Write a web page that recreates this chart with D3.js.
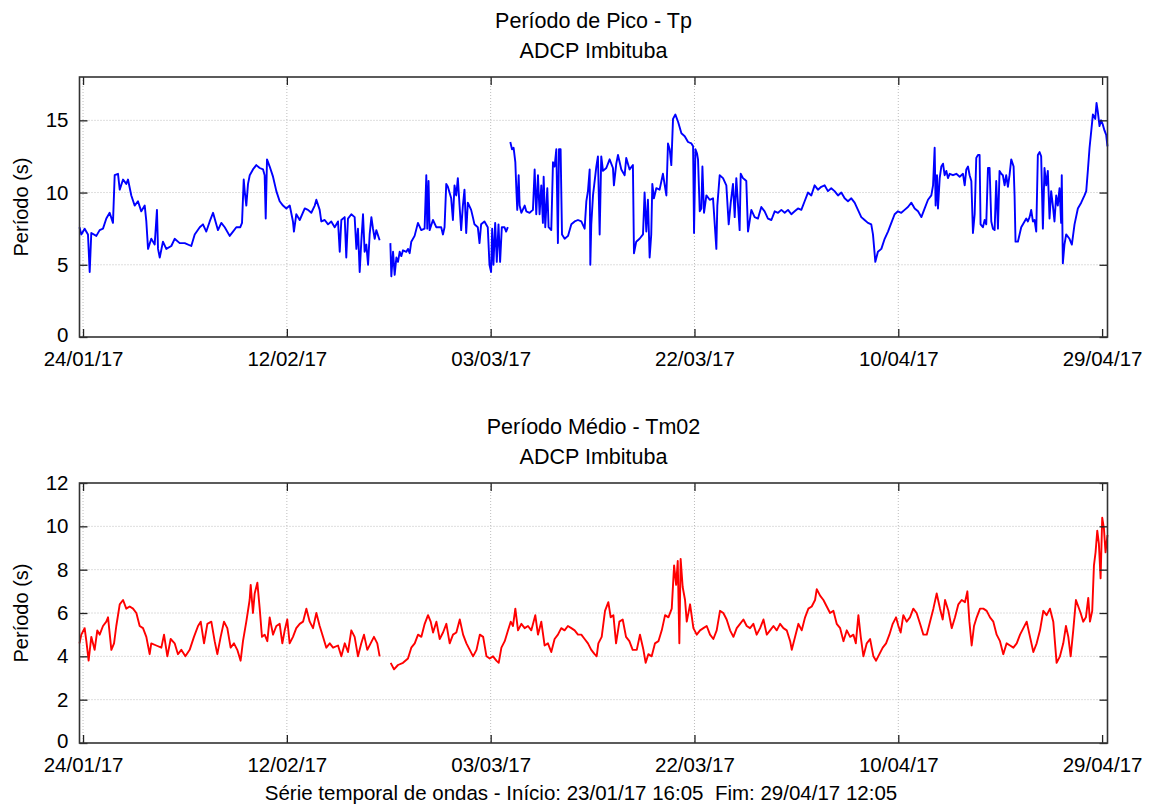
<!DOCTYPE html>
<html><head><meta charset="utf-8">
<script src="https://cdn.jsdelivr.net/npm/d3@7"></script>
<style>
body{margin:0;background:#fff}
text{font-family:"Liberation Sans",Arial,Helvetica,sans-serif;fill:#000}
</style>
</head><body>
<svg id="chart" width="1153" height="805"></svg>
<script>
// ---- data (days since series start, 23/01/17 16:05) ----
const tpDays=[0,0.17,0.48,0.79,0.95,1.10,1.57,1.88,2.19,2.50,2.81,3.12,3.28,3.59,3.75,4.06,4.36,4.52,4.83,5.14,5.45,5.76,6.08,6.23,6.39,6.69,7.01,7.22,7.32,7.48,7.78,8.09,8.56,8.87,9.34,9.81,10.42,10.74,11.21,11.51,11.82,12.14,12.45,12.75,12.91,13.22,13.54,14.00,14.31,14.62,14.99,15.15,15.31,15.40,15.55,15.71,15.87,16.17,16.48,16.80,17.11,17.26,17.36,17.48,17.73,18.04,18.35,18.66,18.97,19.28,19.60,19.90,19.99,20.21,20.53,21.00,21.30,21.61,21.93,22.08,22.39,22.54,22.86,23.17,23.47,23.79,24.10,24.26,24.41,24.72,24.87,25.03,25.34,25.65,25.81,25.96,26.12,26.27,26.43,26.58,26.74,26.90,27.05,27.21,27.36,27.52,27.67,27.98,28.4,28.98,29.07,29.23,29.38,29.54,29.69,29.85,30.00,30.16,30.47,30.62,30.78,30.93,31.24,31.55,31.86,32.17,32.33,32.42,32.54,32.64,32.95,33.26,33.72,33.88,34.03,34.19,34.34,34.65,34.81,34.96,35.12,35.27,35.43,35.58,35.74,35.89,36.05,36.20,36.51,36.67,36.82,37.13,37.29,37.44,37.75,38.06,38.22,38.37,38.47,38.59,38.75,38.90,39.06,39.21,39.37,39.62,39.77,39.93,40.05,40.16,40.32,40.47,40.63,40.72,40.81,40.94,41.03,41.19,41.50,41.65,41.96,42.27,42.43,42.58,42.74,42.89,43.05,43.20,43.27,43.42,43.61,43.73,43.98,44.14,44.29,44.45,44.60,44.70,44.85,44.98,45.23,45.54,45.85,46.16,46.47,46.78,47.09,47.25,47.40,47.56,47.62,47.71,47.87,48.18,48.33,48.49,48.64,48.80,49.11,49.42,49.73,49.82,50.04,50.20,50.51,50.82,50.97,51.28,51.59,51.69,51.90,52.21,52.53,52.68,52.84,52.99,53.15,53.30,53.40,53.55,53.77,54.08,54.39,54.71,54.86,55.02,55.17,55.33,55.55,55.80,56.11,56.42,56.73,57.04,57.20,57.29,57.42,57.57,57.66,57.82,57.97,58.07,58.22,58.44,58.75,59.06,59.37,59.46,59.68,59.99,60.30,60.52,60.71,60.92,61.08,61.23,61.54,61.64,61.85,62.01,62.16,62.32,62.47,62.63,62.94,63.25,63.56,63.87,64.18,64.50,64.81,65.12,65.43,65.74,66.05,66.36,66.67,66.98,67.29,67.60,67.91,68.22,68.53,68.84,69.15,69.46,69.77,70.08,70.39,70.71,71.02,71.33,71.64,71.95,72.26,72.57,72.88,73.19,73.50,73.81,73.97,74.19,74.43,74.75,75.06,75.37,75.68,75.99,76.30,76.61,76.92,77.23,77.55,77.86,78.17,78.48,78.79,79.10,79.41,79.57,79.72,79.81,79.94,80.03,80.19,80.34,80.50,80.65,80.81,80.96,81.12,81.43,81.74,82.05,82.36,82.52,82.67,82.83,82.98,83.14,83.29,83.45,83.60,83.76,83.91,84.00,84.22,84.38,84.53,84.69,84.84,85.00,85.15,85.31,85.46,85.62,85.77,85.93,86.08,86.24,86.39,86.55,86.70,86.86,87.08,87.17,87.26,87.48,87.79,88.10,88.26,88.41,88.57,88.72,88.88,89.03,89.19,89.34,89.50,89.65,89.81,89.96,90.12,90.27,90.43,90.58,90.74,90.89,91.05,91.20,91.36,91.51,91.57,91.67,91.82,91.98,92.29,92.51,92.76,93.07,93.38,93.69,93.85,94.00,94.16,94.31,94.47,94.69,94.81,94.93,95.09,95.24,95.40,95.55,95.71,95.83];
const tpValues=[7.6,7.1,7.5,7.1,4.5,7.2,7.0,7.4,7.5,8.2,8.6,7.9,11.2,11.3,10.2,10.9,10.6,10.9,9.8,9.1,9.4,8.7,9.1,8.0,6.1,6.8,6.4,8.8,6.1,5.5,6.6,6.1,6.3,6.8,6.5,6.5,6.3,7.1,7.6,7.8,7.3,8.0,8.6,7.8,7.4,7.9,7.6,7.0,7.3,7.6,7.6,7.9,10.9,10.1,9.1,10.6,11.2,11.6,11.9,11.7,11.6,11.2,8.2,12.3,11.8,11.1,10.1,9.4,9.1,8.9,9.1,8.0,7.3,8.5,8.1,8.9,8.8,8.6,9.1,9.5,8.8,8.0,8.1,7.8,8.0,7.6,8.0,5.9,8.1,8.3,5.5,8.2,8.5,8.3,6.1,7.5,4.5,6.6,8.5,5.9,6.4,5.0,7.1,8.3,7.5,6.8,7.4,6.7,null,6.5,4.2,5.9,4.3,5.5,5.2,5.9,5.6,6.0,5.9,6.1,5.8,6.6,7.0,7.9,7.4,7.5,11.2,7.5,10.8,7.4,8.1,7.6,7.6,7.1,7.6,10.6,10.4,9.6,8.1,10.5,9.8,11.0,9.1,7.4,9.1,10.2,7.2,9.3,8.8,8.3,7.8,7.6,6.5,7.8,8.0,7.6,5.0,4.5,7.5,5.0,7.9,5.2,7.8,5.2,7.6,7.6,7.3,7.6,null,13.5,13.0,13.1,12.1,10.3,8.8,11.2,9.1,8.6,9.1,8.7,8.6,8.8,11.6,8.5,11.2,8.5,10.5,7.9,11.1,7.6,10.3,7.6,7.4,12.1,11.8,13.0,6.5,13.0,13.0,7.1,6.8,7.0,7.8,8.0,8.1,8.0,7.5,9.4,10.1,11.6,5.0,7.8,9.8,11.8,12.5,7.1,12.5,11.5,11.7,12.3,11.7,10.5,12.0,12.6,11.6,11.2,12.4,11.6,11.9,5.8,6.6,6.8,7.1,10.0,7.3,9.5,5.5,7.1,10.6,9.6,10.3,10.2,11.3,9.8,13.4,13.0,11.9,15.1,15.4,14.9,14.1,13.9,13.5,13.4,13.2,7.2,13.0,12.7,12.3,8.7,8.9,11.8,8.6,9.8,9.5,9.6,6.1,9.1,11.2,11.0,10.5,7.8,9.3,10.6,8.3,11.0,7.4,11.3,11.0,10.9,10.8,7.3,8.0,8.8,8.3,8.2,9.0,8.7,8.2,8.1,8.7,8.6,8.8,8.6,8.8,8.5,8.7,8.9,8.8,9.4,10.0,9.8,10.5,10.2,10.4,10.5,10.1,10.3,10.1,9.8,10.0,9.6,9.4,9.6,9.3,8.8,8.3,8.1,7.9,7.8,7.1,5.2,5.9,6.1,6.8,7.3,7.9,8.5,8.7,8.6,8.8,9.0,9.3,8.9,8.7,8.3,8.9,9.5,9.8,10.5,13.1,9.1,11.2,8.9,11.0,11.8,12.0,11.2,11.5,11.0,11.3,11.2,11.3,11.1,11.3,10.5,11.6,11.8,11.2,10.8,7.2,8.5,12.4,12.6,12.6,7.8,7.6,8.1,7.8,11.7,11.7,8.0,7.5,7.4,10.8,7.5,11.5,11.3,11.2,10.5,11.2,10.4,11.2,12.3,11.8,9.8,6.6,6.6,7.6,8.0,8.2,8.0,8.3,8.8,8.0,8.1,7.3,12.6,12.8,12.5,7.5,11.7,10.5,11.5,8.2,10.1,9.1,8.0,9.8,9.1,10.3,7.9,11.2,5.1,6.4,7.1,6.8,6.4,7.8,8.9,9.3,9.8,10.1,11.5,13.1,14.2,15.4,15.1,16.2,15.6,14.6,15.0,14.7,14.3,14.0,13.2];

const tmDays=[0,0.17,0.48,0.64,0.85,1.10,1.41,1.66,1.88,2.19,2.50,2.66,2.97,3.22,3.43,3.75,4.06,4.36,4.68,4.99,5.30,5.61,5.92,6.23,6.54,6.69,7.16,7.63,7.88,8.19,8.50,8.87,9.18,9.49,9.87,10.27,10.67,11.05,11.30,11.61,11.92,12.29,12.60,12.85,13.16,13.47,13.78,14.09,14.40,14.71,15.02,15.24,15.55,15.86,15.96,16.17,16.33,16.58,16.80,17.01,17.26,17.51,17.73,18.04,18.35,18.66,18.91,19.13,19.37,19.59,19.90,20.21,20.53,20.84,21.15,21.46,21.77,22.08,22.39,22.70,23.01,23.33,23.64,24.10,24.41,24.73,25.03,25.34,25.65,25.96,26.27,26.52,26.83,27.14,27.45,27.76,27.98,28.5,29.01,29.32,29.69,30.16,30.62,30.93,31.25,31.56,31.87,32.18,32.49,32.74,32.96,33.27,33.58,33.89,34.20,34.51,34.82,35.13,35.45,35.76,36.07,36.38,36.69,37.01,37.32,37.63,37.94,38.24,38.55,38.86,39.08,39.33,39.64,39.95,40.20,40.41,40.63,40.88,41.19,41.50,41.81,42.12,42.49,42.74,43.05,43.36,43.67,43.98,44.29,44.60,44.91,45.22,45.53,45.85,46.16,46.47,46.78,47.09,47.40,47.71,48.02,48.21,48.37,48.68,48.99,49.30,49.52,49.77,50.02,50.33,50.64,50.95,51.26,51.57,51.95,52.25,52.57,52.78,53.03,53.34,53.65,53.97,54.28,54.59,54.90,55.21,55.43,55.62,55.77,55.92,56.04,56.23,56.45,56.61,56.92,57.23,57.54,57.85,58.16,58.47,58.78,59.09,59.40,59.71,60.02,60.33,60.65,60.96,61.27,61.58,61.89,62.20,62.51,62.82,63.13,63.45,63.76,64.07,64.38,64.69,65.00,65.31,65.62,65.93,66.25,66.40,66.71,67.02,67.33,67.64,67.95,68.26,68.57,68.73,69.04,69.35,69.66,69.97,70.28,70.59,70.91,71.22,71.53,71.84,72.15,72.37,72.61,72.83,73.08,73.39,73.70,74.01,74.26,74.57,74.88,75.19,75.50,75.81,76.12,76.34,76.55,76.80,77.11,77.42,77.73,78.04,78.36,78.67,78.98,79.29,79.60,79.91,80.22,80.47,80.69,81.00,81.31,81.62,81.93,82.24,82.55,82.77,82.96,83.17,83.39,83.64,83.95,84.26,84.57,84.88,85.19,85.50,85.81,86.12,86.43,86.75,87.06,87.37,87.68,87.99,88.30,88.61,88.92,89.23,89.54,89.85,90.16,90.47,90.78,91.09,91.40,91.71,91.96,92.18,92.40,92.64,92.89,93.11,93.33,93.57,93.82,94.04,94.20,94.41,94.57,94.72,94.88,95.03,95.19,95.34,95.50,95.65,95.83];
const tmValues=[4.6,5.0,5.3,4.7,3.8,4.9,4.3,5.2,5.0,5.4,5.6,5.8,4.3,4.6,5.4,6.4,6.6,6.2,6.3,6.2,6.0,5.4,5.3,4.9,4.1,4.6,4.5,4.4,5.0,4.0,4.8,4.6,4.1,4.3,4.0,4.3,4.9,5.4,5.6,4.6,5.5,5.6,4.7,4.1,4.9,5.6,5.3,4.4,4.6,4.3,3.8,4.7,5.6,6.6,7.3,6.0,6.9,7.4,6.2,4.9,5.0,4.7,5.8,5.0,5.4,5.5,4.6,5.2,5.7,4.6,4.9,5.3,5.5,5.6,6.2,5.6,5.3,6.0,5.4,4.9,4.4,4.6,4.4,4.5,4.0,4.6,4.2,5.2,4.9,4.0,4.6,5.0,4.3,4.6,4.9,4.6,4.0,null,3.7,3.4,3.6,3.7,3.9,4.4,4.6,5.0,4.9,5.5,5.9,5.6,5.1,5.6,4.8,5.1,5.5,4.6,5.0,5.1,5.7,5.0,4.6,4.3,4.0,4.3,5.0,4.9,4.0,3.9,4.0,3.8,3.7,4.4,4.7,5.2,5.6,5.4,6.2,5.2,5.5,5.3,5.4,5.2,5.9,5.0,5.6,4.5,4.6,4.2,4.8,5.0,5.3,5.2,5.4,5.3,5.2,5.0,5.0,4.8,4.6,4.3,4.1,4.0,4.6,4.9,6.1,6.5,5.8,5.9,4.6,5.6,5.7,4.9,4.7,4.3,4.3,5.0,4.3,3.7,4.1,4.0,4.6,4.7,5.2,5.9,5.8,6.2,8.2,7.3,8.4,4.6,8.5,7.2,6.6,5.6,6.4,5.3,5.0,5.2,5.3,5.4,5.0,4.8,5.2,6.1,6.0,5.7,5.2,4.9,5.3,5.5,5.7,5.4,5.3,5.5,5.0,5.3,5.7,5.0,5.2,5.4,5.2,5.5,5.3,5.2,4.7,4.3,4.9,5.5,5.2,5.8,6.2,6.3,6.6,7.1,6.8,6.6,6.3,6.0,6.1,5.5,5.3,4.7,5.2,4.9,5.0,4.6,5.9,4.9,4.0,4.6,4.8,4.0,3.8,4.1,4.4,4.6,5.0,5.5,5.8,5.4,5.1,5.9,5.6,5.8,6.2,6.0,5.5,5.0,5.0,5.6,6.2,6.9,6.2,5.7,6.6,6.1,5.3,5.8,6.4,6.6,6.5,7.0,5.6,4.5,5.4,5.8,6.2,6.2,6.1,5.8,5.6,5.0,4.7,4.1,4.6,4.5,4.4,4.6,5.0,5.3,5.6,4.9,4.2,4.6,5.2,6.1,5.9,6.2,5.6,3.7,4.0,4.6,5.4,4.9,4.0,5.2,6.6,6.3,6.0,5.6,5.8,6.7,5.6,6.1,8.2,8.8,9.8,9.2,7.6,10.4,9.9,8.8,9.6];

const tickDates=["2017-01-24","2017-02-12","2017-03-03","2017-03-22","2017-04-10","2017-04-29"];
const tpTicks=[0,5,10,15];
const tmTicks=[0,2,4,6,8,10,12];
const seriesStart=Date.UTC(2017,0,23,16,5);
const seriesEnd=Date.UTC(2017,3,29,12,5);

// ---- drawing ----
const svg=d3.select("#chart");
const DAY=86400000;
const x=d3.scaleUtc().domain([new Date(seriesStart),new Date(seriesEnd)]).range([79.5,1107.5]);
const tickVals=tickDates.map(s=>new Date(s+"T00:00:00Z"));
const fmt=d3.utcFormat("%d/%m/%y");

function panel(opt){
  const {top,bottom,yMax,yTicks,days,values,color,title1,title2}=opt;
  const y=d3.scaleLinear().domain([0,yMax]).range([bottom,top]);
  const L=x.range()[0], R=x.range()[1];
  const g=svg.append("g");
  // grid
  g.append("g").selectAll("line").data(yTicks.filter(v=>v>0&&v<yMax)).join("line")
    .attr("x1",L).attr("x2",R).attr("y1",d=>y(d)).attr("y2",d=>y(d))
    .attr("stroke","#bdbdbd").attr("stroke-width",1).attr("stroke-dasharray","1,2");
  g.append("g").selectAll("line").data(tickVals.filter(d=>x(d)>L+3&&x(d)<R-6)).join("line")
    .attr("x1",d=>x(d)).attr("x2",d=>x(d)).attr("y1",top).attr("y2",bottom)
    .attr("stroke","#bdbdbd").attr("stroke-width",1).attr("stroke-dasharray","1,2");
  // line
  const pts=days.map((d,i)=>({t:new Date(seriesStart+d*DAY),v:values[i]}));
  const line=d3.line().defined(p=>p.v!=null).x(p=>x(p.t)).y(p=>y(p.v));
  g.append("path").datum(pts).attr("d",line).attr("fill","none")
    .attr("stroke",color).attr("stroke-width",1.9).attr("stroke-linejoin","round");
  // axes (ticks inside)
  const ax=[
    g.append("g").attr("transform",`translate(0,${bottom})`)
      .call(d3.axisBottom(x).tickValues(tickVals).tickFormat(fmt).tickSize(-8).tickPadding(14)),
    g.append("g").attr("transform",`translate(0,${top})`)
      .call(d3.axisTop(x).tickValues(tickVals).tickFormat("").tickSize(-8)),
    g.append("g").attr("transform",`translate(${L},0)`)
      .call(d3.axisLeft(y).tickValues(yTicks).tickSize(-8).tickPadding(11)),
    g.append("g").attr("transform",`translate(${R},0)`)
      .call(d3.axisRight(y).tickValues(yTicks).tickFormat("").tickSize(-8))
  ];
  ax.forEach(a=>{a.select(".domain").remove();
    a.selectAll(".tick line").attr("stroke","#222").attr("stroke-width",1.3);
    a.selectAll("text").attr("font-size",20.5).attr("font-family",'"Liberation Sans",Arial,sans-serif').attr("fill","#111");});
  // lift the "0" label slightly so it clears the first date label
  ax[2].selectAll(".tick text").filter(d=>d===0).attr("dy","0.2em");
  g.append("rect").attr("x",L).attr("y",top).attr("width",R-L).attr("height",bottom-top)
    .attr("fill","none").attr("stroke","#333").attr("stroke-width",1.6);
  // titles
  g.append("text").attr("x",(L+R)/2).attr("y",top-49).attr("text-anchor","middle")
    .attr("font-size",21.5).text(title1);
  g.append("text").attr("x",(L+R)/2).attr("y",top-19).attr("text-anchor","middle")
    .attr("font-size",21.5).text(title2);
  g.append("text").attr("transform",`translate(28,${(top+bottom)/2}) rotate(-90)`)
    .attr("text-anchor","middle").attr("font-size",20).text("Período (s)");
}

panel({top:77,bottom:337,yMax:18,yTicks:tpTicks,days:tpDays,values:tpValues,color:"#0000ff",
  title1:"Período de Pico - Tp",title2:"ADCP Imbituba"});
panel({top:483,bottom:743,yMax:12,yTicks:tmTicks,days:tmDays,values:tmValues,color:"#ff0000",
  title1:"Período Médio - Tm02",title2:"ADCP Imbituba"});

svg.append("text").attr("x",581).attr("y",800).attr("text-anchor","middle").attr("font-size",20.5)
  .style("white-space","pre")
  .text("Série temporal de ondas - Início: 23/01/17 16:05  Fim: 29/04/17 12:05");
</script>
</body></html>
